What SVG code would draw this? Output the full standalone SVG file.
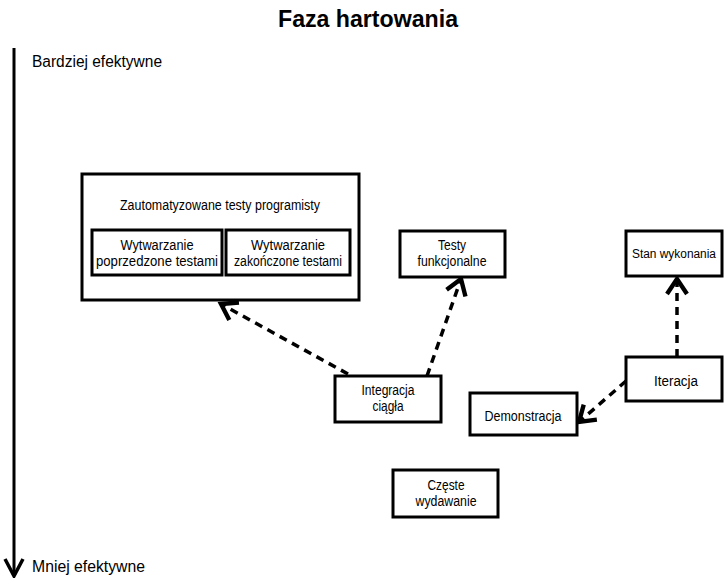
<svg xmlns="http://www.w3.org/2000/svg" width="725" height="578" viewBox="0 0 725 578">
<style>
  .box { fill: #fff; stroke: #000; stroke-width: 3; }
  .t { font-family: "Liberation Sans", Arial, sans-serif; font-size: 14px; fill: #000; text-anchor: middle; }
  .lbl { font-family: "Liberation Sans", Arial, sans-serif; font-size: 16px; fill: #000; }
  .title { font-family: "Liberation Sans", Arial, sans-serif; font-size: 23px; font-weight: bold; fill: #000; }
  .dash { fill: none; stroke: #000; stroke-width: 3.5; stroke-dasharray: 8 6; marker-end: url(#arr); }
</style>
<defs>
  <marker id="arr" markerUnits="userSpaceOnUse" markerWidth="30" markerHeight="30" viewBox="-16 -12 20 24" refX="0" refY="0" orient="auto">
    <path d="M-12,-8 L0,0 L-12,8" fill="none" stroke="#000" stroke-width="3.5" stroke-linejoin="miter"/>
  </marker>
</defs>
<rect width="725" height="578" fill="#fff"/>

<text class="title" x="278" y="27" textLength="180" lengthAdjust="spacingAndGlyphs">Faza hartowania</text>

<g id="axis">
  <line x1="14" y1="48" x2="14" y2="574" stroke="#000" stroke-width="3"/>
  <path d="M5,559 L14,576 L23,559" fill="none" stroke="#000" stroke-width="3.5"/>
  <text class="lbl" x="32" y="67" textLength="130" lengthAdjust="spacingAndGlyphs">Bardziej efektywne</text>
  <text class="lbl" x="32" y="572" textLength="113" lengthAdjust="spacingAndGlyphs">Mniej efektywne</text>
</g>

<g id="connectors">
  <line class="dash" x1="348" y1="374" x2="221" y2="304"/>
  <line class="dash" x1="427" y1="376" x2="461" y2="279"/>
  <line class="dash" x1="677" y1="357" x2="677" y2="279"/>
  <line class="dash" x1="626" y1="381" x2="579" y2="422"/>
</g>

<g id="automated-tests">
  <rect class="box" x="82" y="174" width="277" height="126"/>
  <text class="t" x="220" y="210" textLength="200" lengthAdjust="spacingAndGlyphs">Zautomatyzowane testy programisty</text>
</g>
<g id="tdd">
  <rect class="box" x="92" y="230" width="130" height="45"/>
  <text class="t" x="157" y="250" textLength="73" lengthAdjust="spacingAndGlyphs">Wytwarzanie</text>
  <text class="t" x="157" y="266" textLength="122" lengthAdjust="spacingAndGlyphs">poprzedzone testami</text>
</g>
<g id="tld">
  <rect class="box" x="226" y="230" width="124" height="45"/>
  <text class="t" x="288" y="250" textLength="74" lengthAdjust="spacingAndGlyphs">Wytwarzanie</text>
  <text class="t" x="288" y="266" textLength="108" lengthAdjust="spacingAndGlyphs">zakończone testami</text>
</g>
<g id="functional-tests">
  <rect class="box" x="400" y="231" width="105" height="46"/>
  <text class="t" x="452" y="250" textLength="28" lengthAdjust="spacingAndGlyphs">Testy</text>
  <text class="t" x="452" y="266" textLength="69" lengthAdjust="spacingAndGlyphs">funkcjonalne</text>
</g>
<g id="status">
  <rect class="box" x="626" y="231" width="96" height="45"/>
  <text class="t" x="674" y="258" style="font-size:12.5px" textLength="84" lengthAdjust="spacingAndGlyphs">Stan wykonania</text>
</g>
<g id="ci">
  <rect class="box" x="335" y="376" width="106" height="46"/>
  <text class="t" x="388" y="395" textLength="53" lengthAdjust="spacingAndGlyphs">Integracja</text>
  <text class="t" x="388" y="411" textLength="31" lengthAdjust="spacingAndGlyphs">ciągła</text>
</g>
<g id="iteration">
  <rect class="box" x="626" y="357" width="96" height="44"/>
  <text class="t" x="676" y="386" textLength="44" lengthAdjust="spacingAndGlyphs">Iteracja</text>
</g>
<g id="demo">
  <rect class="box" x="470" y="393" width="107" height="42"/>
  <text class="t" x="523" y="421" textLength="77" lengthAdjust="spacingAndGlyphs">Demonstracja</text>
</g>
<g id="releases">
  <rect class="box" x="393" y="470" width="105" height="47"/>
  <text class="t" x="446" y="490" textLength="37" lengthAdjust="spacingAndGlyphs">Częste</text>
  <text class="t" x="446" y="506" textLength="61" lengthAdjust="spacingAndGlyphs">wydawanie</text>
</g>
</svg>
